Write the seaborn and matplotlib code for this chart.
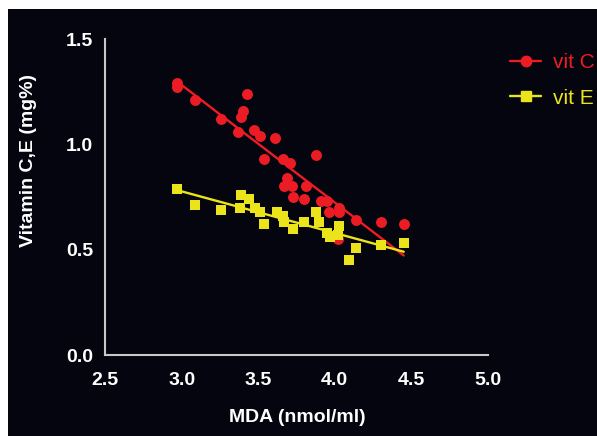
import matplotlib
matplotlib.use("Agg")
import matplotlib.pyplot as plt
from matplotlib.lines import Line2D
from matplotlib.patches import Rectangle
import seaborn as sns
import pandas as pd

# MDA (nmol/ml) vs vitamin C (mg%)
mda_c = [2.97, 2.97, 3.09, 3.26, 3.43, 3.40, 3.39, 3.37, 3.47, 3.51, 3.61, 3.54, 3.66,
         3.71, 3.88, 3.69, 3.67, 3.72, 3.81, 3.73, 3.80, 3.91, 3.95, 3.96, 4.03, 4.03,
         4.14, 4.30, 4.45, 4.02]
vit_c = [1.27, 1.29, 1.21, 1.12, 1.24, 1.16, 1.13, 1.06, 1.07, 1.04, 1.03, 0.93, 0.93,
         0.91, 0.95, 0.84, 0.80, 0.80, 0.80, 0.75, 0.74, 0.73, 0.73, 0.68, 0.70, 0.68,
         0.64, 0.63, 0.62, 0.55]

# MDA (nmol/ml) vs vitamin E (mg%)
mda_e = [2.97, 3.09, 3.26, 3.39, 3.38, 3.44, 3.48, 3.51, 3.54, 3.62, 3.66, 3.67, 3.73,
         3.80, 3.88, 3.90, 3.95, 3.97, 4.03, 4.02, 4.14, 4.09, 4.30, 4.45]
vit_e = [0.79, 0.71, 0.69, 0.76, 0.70, 0.74, 0.70, 0.68, 0.62, 0.68, 0.66, 0.63, 0.60,
         0.63, 0.68, 0.63, 0.58, 0.56, 0.61, 0.57, 0.51, 0.45, 0.52, 0.53]

labels = ["vit C", "vit E"]
RED = "#ec1c24"
YEL = "#ece41a"

df_c = pd.DataFrame({"MDA": mda_c, "vit": vit_c})
df_e = pd.DataFrame({"MDA": mda_e, "vit": vit_e})

sns.set_style("white")
plt.rcParams["font.family"] = ["Liberation Sans", "DejaVu Sans"]

fig = plt.figure(figsize=(5.97, 4.36), dpi=100)
fig.patch.set_facecolor("white")
# black panel, white strip on top and left like the scan
fig.patches.append(Rectangle((8 / 597, 0), 1, 1 - 9 / 436, transform=fig.transFigure,
                             facecolor="#05050f", edgecolor="none", zorder=-10))

ax = fig.add_axes([105 / 597, 1 - 355 / 436, 383 / 597, 316 / 436])
ax.set_facecolor("none")

sns.regplot(data=df_c, x="MDA", y="vit", ax=ax, ci=None, marker="o",
            scatter_kws=dict(s=62, color=RED, linewidths=0, alpha=1, zorder=3),
            line_kws=dict(color=RED, lw=1.7, zorder=4))
sns.regplot(data=df_e, x="MDA", y="vit", ax=ax, ci=None, marker="s",
            scatter_kws=dict(s=58, color=YEL, linewidths=0, alpha=1, zorder=5),
            line_kws=dict(color=YEL, lw=1.7, zorder=6))

ax.set_xlim(2.5, 5.0)
ax.set_ylim(0, 1.5)
ax.set_xticks([2.5, 3.0, 3.5, 4.0, 4.5, 5.0])
ax.set_yticks([0.0, 0.5, 1.0, 1.5])
ax.set_xlabel("")
ax.set_ylabel("")
for s in ["top", "right"]:
    ax.spines[s].set_visible(False)
for s in ["left", "bottom"]:
    ax.spines[s].set_color("#c8c8c8")
    ax.spines[s].set_linewidth(1.5)
ax.tick_params(axis="both", colors="#c8c8c8", width=1.5, length=5.5, direction="out",
               labelcolor="white", labelsize=14)
ax.tick_params(axis="x", pad=7)
ax.tick_params(axis="y", pad=3)
for t in ax.get_xticklabels() + ax.get_yticklabels():
    t.set_fontweight("bold")

fig.text(297 / 597, 1 - 417 / 436, "MDA (nmol/ml)", color="white", fontsize=14,
         fontweight="bold", ha="center", va="center")
fig.text(29 / 597, 1 - 160 / 436, "Vitamin C,E (mg%)", color="white", fontsize=14,
         fontweight="bold", ha="center", va="center", rotation=90)

handles = [Line2D([], [], color=RED, lw=1.7, marker="o", markersize=7.5),
           Line2D([], [], color=YEL, lw=1.7, marker="s", markersize=7.5)]
leg = fig.legend(handles, labels, loc="upper left",
                 bbox_to_anchor=(510 / 597, 1 - 53 / 436), frameon=False,
                 prop={"size": 15}, handlelength=1.5, handletextpad=0.55,
                 labelspacing=0.8, borderpad=0, borderaxespad=0)
for txt, c in zip(leg.get_texts(), [RED, YEL]):
    txt.set_color(c)

fig.savefig("out.png", dpi=100, facecolor=fig.get_facecolor())
